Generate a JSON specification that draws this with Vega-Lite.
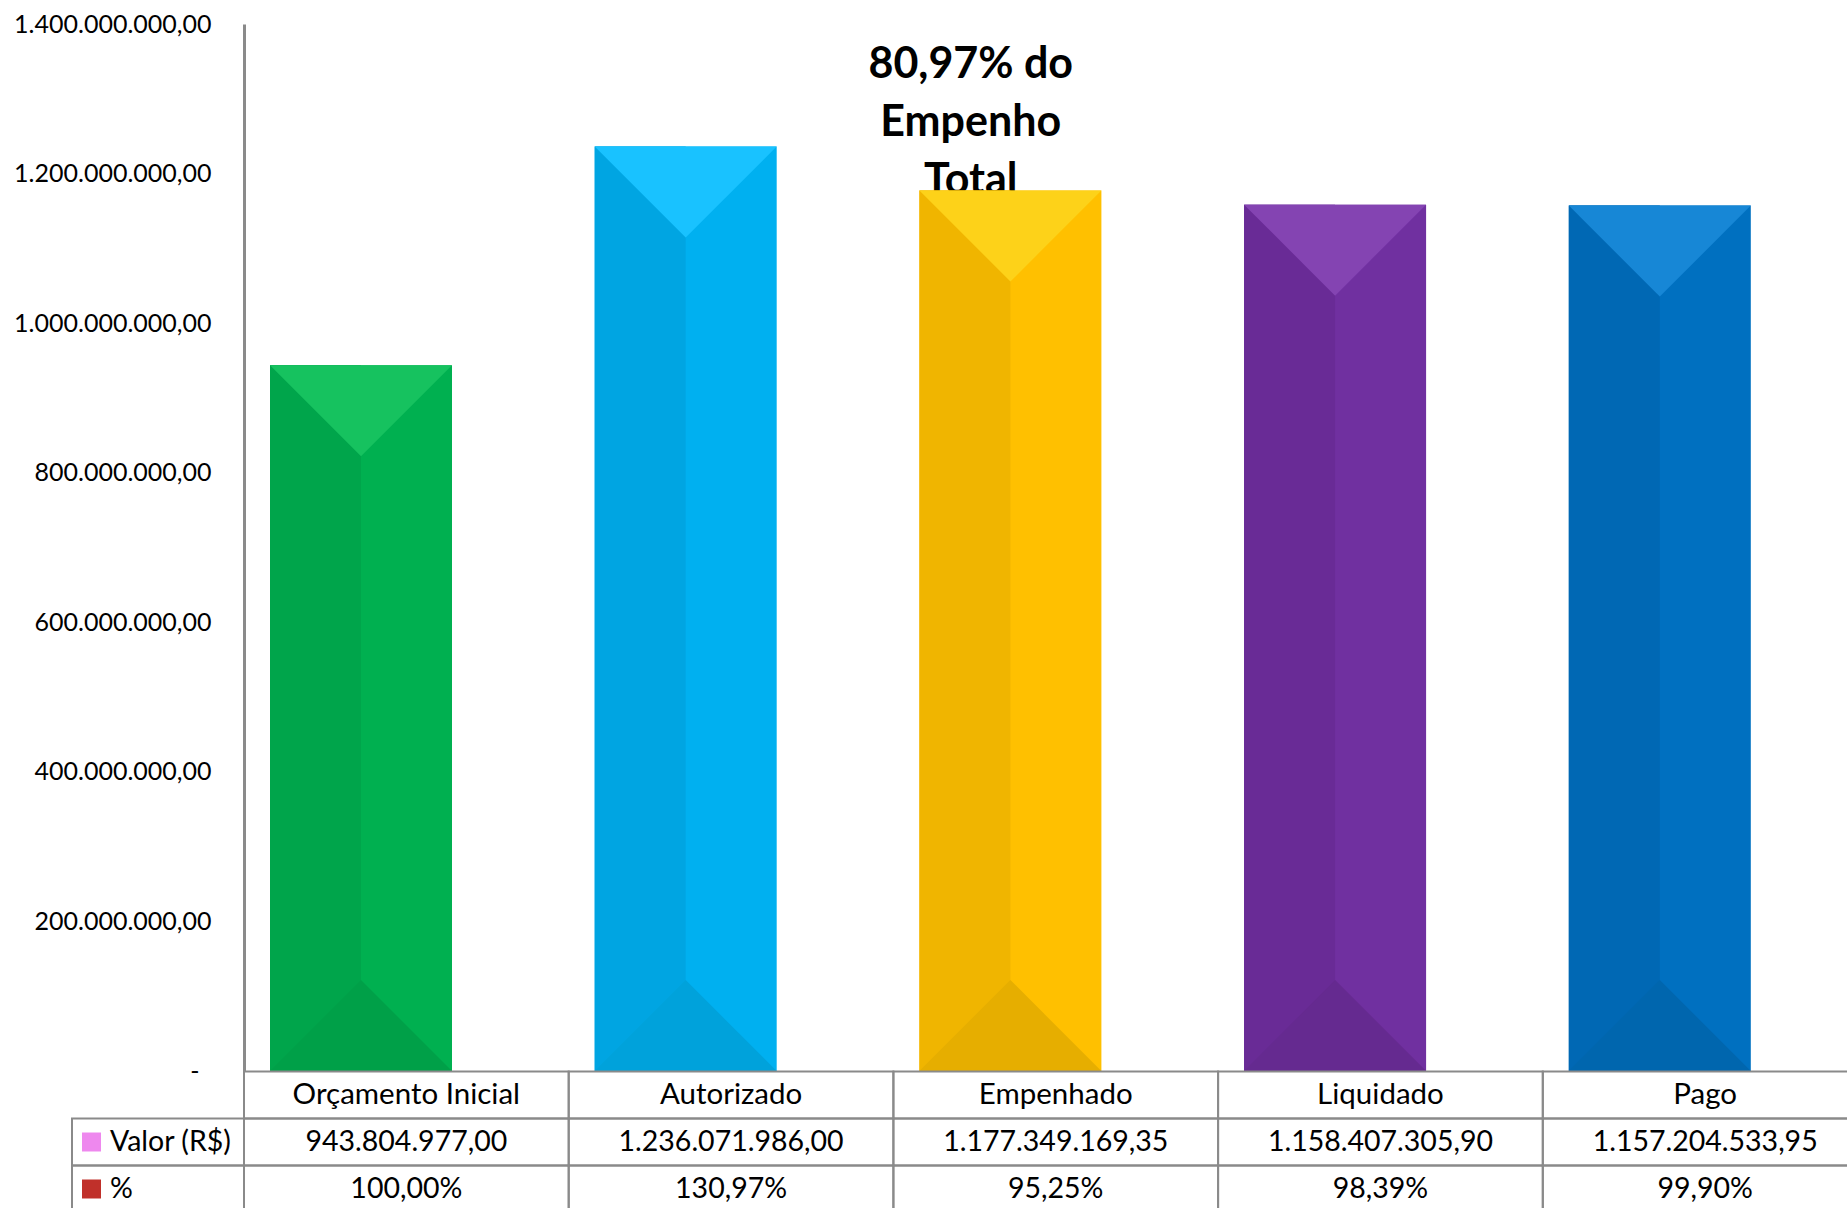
{
  "$schema": "https://vega.github.io/schema/vega-lite/v6.json",
  "width": 1603,
  "height": 1184,
  "autosize": {"type": "none"},
  "padding": {"left": 244, "top": 24, "right": 0, "bottom": 0},
  "background": "white",
  "config": {
    "view": {"stroke": null},
    "font": "Lato",
    "locale": {"number": {"decimal": ",", "thousands": ".", "grouping": [3], "currency": ["R$", ""]}},
    "axisY": {"title": null,
              "format": ",.2f", "labelExpr": "datum.value == 0 ? '-' : datum.label",
              "grid": false, "ticks": false, "tickSize": 0, "labelLimit": 0,
              "labelFont": "Lato", "labelFontSize": 25, "labelColor": "#000000",
              "labelFlush": false, "labelOverlap": false, "labelBound": false,
              "domainColor": "#8a8a8a", "domainWidth": 3}
  },
  "data": {
    "values": [
      {"cat": "Orçamento Inicial", "valor": 943804977.00, "pct": 1.0000},
      {"cat": "Autorizado", "valor": 1236071986.00, "pct": 1.3097},
      {"cat": "Empenhado", "valor": 1177349169.35, "pct": 0.9525},
      {"cat": "Liquidado", "valor": 1158407305.90, "pct": 0.9839},
      {"cat": "Pago", "valor": 1157204533.95, "pct": 0.9990}
    ]
  },
  "resolve": {"scale": {"y": "independent", "color": "independent"}},
  "layer": [
    {
      "resolve": {"scale": {"color": "independent"}},
      "layer": [
        {
          "data": {"values": [{"t": "80,97% do\nEmpenho\nTotal"}]},
          "mark": {"type": "text", "font": "Lato", "fontSize": 43, "fontWeight": "bold", "align": "center", "baseline": "alphabetic", "lineBreak": "\n", "lineHeight": 58, "dx": -85, "color": "#000000"},
          "encoding": {
            "x": {"datum": "Empenhado", "type": "nominal", "axis": null},
            "y": {"datum": 1327800000, "type": "quantitative",
                  "scale": {"domain": [0, 1400000000], "range": [1047, 0], "nice": false, "zero": true},
                  "axis": {"values": [0, 200000000, 400000000, 600000000, 800000000, 1000000000, 1200000000, 1400000000],
                           "labelPadding": {"condition": {"test": "datum.value == 0", "value": 45}, "value": 33}}},
            "text": {"field": "t", "type": "nominal"}
          }
        },
        {
          "mark": {"type": "bar", "width": 182, "xOffset": -45.35},
          "encoding": {
            "x": {"field": "cat", "type": "nominal", "axis": null,
                  "scale": {"domain": ["Orçamento Inicial", "Autorizado", "Empenhado", "Liquidado", "Pago"], "range": [0, 1623.5], "paddingInner": 0, "paddingOuter": 0}},
            "y": {"field": "valor", "type": "quantitative",
                  "axis": {"values": [0, 200000000, 400000000, 600000000, 800000000, 1000000000, 1200000000, 1400000000],
                           "labelPadding": {"condition": {"test": "datum.value == 0", "value": 45}, "value": 33}}},
            "color": {"field": "cat", "type": "nominal", "legend": null,
                      "scale": {"domain": ["Orçamento Inicial", "Autorizado", "Empenhado", "Liquidado", "Pago"], "range": ["#00B050", "#00B0F0", "#FFC000", "#7030A0", "#0070C0"]}}
          }
        },
        {
          "mark": {"type": "bar", "width": 91, "xOffset": -90.85},
          "encoding": {
            "x": {"field": "cat", "type": "nominal", "axis": null},
            "y": {"field": "valor", "type": "quantitative",
                  "axis": {"values": [0, 200000000, 400000000, 600000000, 800000000, 1000000000, 1200000000, 1400000000],
                           "labelPadding": {"condition": {"test": "datum.value == 0", "value": 45}, "value": 33}}},
            "color": {"field": "cat", "type": "nominal", "legend": null,
                      "scale": {"domain": ["Orçamento Inicial", "Autorizado", "Empenhado", "Liquidado", "Pago"], "range": ["#00A54B", "#00A5E2", "#F0B500", "#692B96", "#0068B4"]}}
          }
        },
        {
          "mark": {"type": "point", "shape": "M-1,0L1,0L0,1Z", "size": 33124, "filled": true, "opacity": 1, "strokeWidth": 0, "xOffset": -45.35},
          "encoding": {
            "x": {"field": "cat", "type": "nominal", "axis": null},
            "y": {"field": "valor", "type": "quantitative",
                  "axis": {"values": [0, 200000000, 400000000, 600000000, 800000000, 1000000000, 1200000000, 1400000000],
                           "labelPadding": {"condition": {"test": "datum.value == 0", "value": 45}, "value": 33}}},
            "color": {"field": "cat", "type": "nominal", "legend": null,
                      "scale": {"domain": ["Orçamento Inicial", "Autorizado", "Empenhado", "Liquidado", "Pago"], "range": ["#16C25F", "#19C2FF", "#FDD219", "#8444B2", "#1787D6"]}}
          }
        },
        {
          "mark": {"type": "point", "shape": "M-1,0L1,0L0,-1Z", "size": 33124, "filled": true, "opacity": 1, "strokeWidth": 0, "xOffset": -45.35},
          "encoding": {
            "x": {"field": "cat", "type": "nominal", "axis": null},
            "y": {"datum": 0, "type": "quantitative",
                  "axis": {"values": [0, 200000000, 400000000, 600000000, 800000000, 1000000000, 1200000000, 1400000000],
                           "labelPadding": {"condition": {"test": "datum.value == 0", "value": 45}, "value": 33}}},
            "color": {"field": "cat", "type": "nominal", "legend": null,
                      "scale": {"domain": ["Orçamento Inicial", "Autorizado", "Empenhado", "Liquidado", "Pago"], "range": ["#00A048", "#00A2DB", "#E6AE00", "#652A90", "#0066AE"]}}
          }
        }
      ]
    },
    {
      "layer": [
        {
          "mark": {"type": "bar", "fill": "transparent", "stroke": "#8a8a8a", "strokeWidth": 2},
          "encoding": {
            "x": {"field": "cat", "type": "nominal", "axis": null},
            "y": {"datum": "h", "type": "nominal", "axis": null,
                  "scale": {"domain": ["h", "v", "p"], "range": [1047.5, 1188.5], "paddingInner": 0, "paddingOuter": 0}}
          }
        },
        {
          "mark": {"type": "bar", "fill": "transparent", "stroke": "#8a8a8a", "strokeWidth": 2},
          "encoding": {
            "x": {"field": "cat", "type": "nominal", "axis": null},
            "y": {"datum": "v", "type": "nominal", "axis": null}
          }
        },
        {
          "mark": {"type": "bar", "fill": "transparent", "stroke": "#8a8a8a", "strokeWidth": 2},
          "encoding": {
            "x": {"field": "cat", "type": "nominal", "axis": null},
            "y": {"datum": "p", "type": "nominal", "axis": null}
          }
        },
        {
          "data": {"values": [{"r": "v", "label": "Valor (R$)"}, {"r": "p", "label": "%"}]},
          "mark": {"type": "bar", "fill": "transparent", "stroke": "#8a8a8a", "strokeWidth": 2, "width": 172, "xOffset": -248.35},
          "encoding": {
            "x": {"datum": "Orçamento Inicial", "type": "nominal", "axis": null},
            "y": {"field": "r", "type": "nominal", "axis": null}
          }
        },
        {
          "mark": {"type": "text", "font": "Lato", "fontSize": 29.5, "align": "center", "baseline": "middle", "color": "#000000"},
          "encoding": {
            "x": {"field": "cat", "type": "nominal", "axis": null},
            "y": {"datum": "h", "type": "nominal", "axis": null},
            "text": {"field": "cat", "type": "nominal"}
          }
        },
        {
          "mark": {"type": "text", "font": "Lato", "fontSize": 28.5, "align": "center", "baseline": "middle", "color": "#000000"},
          "encoding": {
            "x": {"field": "cat", "type": "nominal", "axis": null},
            "y": {"datum": "v", "type": "nominal", "axis": null},
            "text": {"field": "valor", "type": "quantitative", "format": ",.2f"}
          }
        },
        {
          "mark": {"type": "text", "font": "Lato", "fontSize": 28.5, "align": "center", "baseline": "middle", "color": "#000000"},
          "encoding": {
            "x": {"field": "cat", "type": "nominal", "axis": null},
            "y": {"datum": "p", "type": "nominal", "axis": null},
            "text": {"field": "pct", "type": "quantitative", "format": ".2%"}
          }
        },
        {
          "data": {"values": [{"r": "v", "label": "Valor (R$)"}, {"r": "p", "label": "%"}]},
          "mark": {"type": "text", "font": "Lato", "fontSize": 28.5, "align": "left", "baseline": "middle", "dx": -296.35, "color": "#000000"},
          "encoding": {
            "x": {"datum": "Orçamento Inicial", "type": "nominal", "axis": null},
            "y": {"field": "r", "type": "nominal", "axis": null},
            "text": {"field": "label", "type": "nominal"}
          }
        },
        {
          "data": {"values": [{"r": "v"}]},
          "mark": {"type": "point", "shape": "square", "size": 361, "filled": true, "opacity": 1, "strokeWidth": 0, "color": "#EE88EE", "xOffset": -314.85},
          "encoding": {
            "x": {"datum": "Orçamento Inicial", "type": "nominal", "axis": null},
            "y": {"field": "r", "type": "nominal", "axis": null}
          }
        },
        {
          "data": {"values": [{"r": "p"}]},
          "mark": {"type": "point", "shape": "square", "size": 361, "filled": true, "opacity": 1, "strokeWidth": 0, "color": "#C0302A", "xOffset": -314.85},
          "encoding": {
            "x": {"datum": "Orçamento Inicial", "type": "nominal", "axis": null},
            "y": {"field": "r", "type": "nominal", "axis": null}
          }
        }
      ]
    }
  ]
}
